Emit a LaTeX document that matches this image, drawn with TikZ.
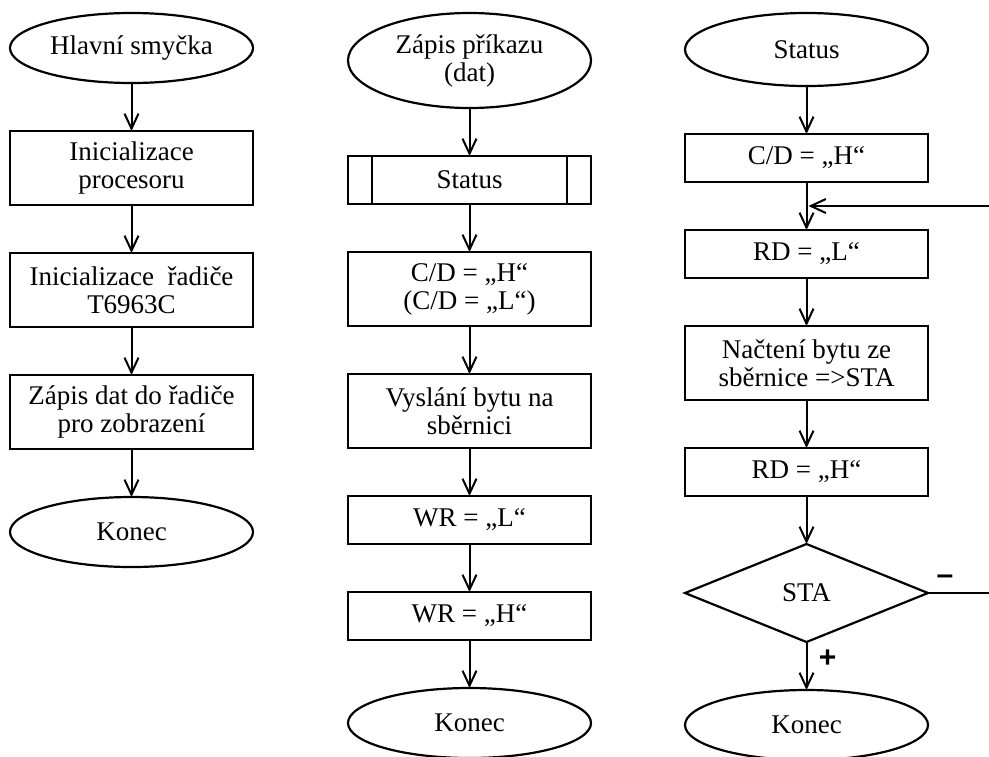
\documentclass[tikz,border=0pt]{standalone}
\usepackage{fontspec}
\setmainfont{Liberation Serif}
\newfontfamily\signfont{Liberation Sans}
\usetikzlibrary{shapes.geometric,arrows.meta,positioning,calc}

\begin{document}
\begin{tikzpicture}[
    x=0.5pt, y=-0.5pt,
    node distance=24pt,
    every node/.style={font=\fontsize{13.5}{14}\selectfont},
    krok/.style={rectangle, draw, line width=1.1pt, outer sep=0pt, align=center, minimum width=121.5pt, minimum height=24pt, inner sep=2pt},
    krok2/.style={krok, minimum height=37pt},
    mez/.style={ellipse, draw, line width=1.1pt, outer sep=0pt, align=center, minimum width=121.5pt, minimum height=35pt, inner sep=0pt},
    podm/.style={diamond, draw, line width=1.1pt, outer sep=0pt, minimum width=121.5pt, minimum height=49pt, inner sep=0pt},
    sipka/.style={-{Straight Barb[length=7.5pt,width=7pt]}, line width=1pt},
    znak/.style={font=\signfont\bfseries\fontsize{15}{15}\selectfont}
]
    \clip (0,0) rectangle (989,756);
    \fill [white] (0,0) rectangle (989,756);

    % hlavni smycka
    \node [mez] (h0) at (131.5,48) {Hlavní smyčka};
    \node [krok2, below=of h0] (h1) {Inicializace\\procesoru};
    \node [krok2, below=of h1] (h2) {Inicializace\ \ řadiče\\T6963C};
    \node [krok2, below=of h2] (h3) {Zápis dat do řadiče\\pro zobrazení};
    \node [mez, below=of h3] (h4) {Konec};

    % zapis prikazu (dat)
    \node [mez, minimum height=47.5pt] (z0) at (469.5,60.5) {Zápis příkazu\\(dat)};
    \node [krok, below=of z0] (z1) {Status};
    \draw [line width=1.1pt] ([xshift=12pt]z1.north west) -- ([xshift=12pt]z1.south west);
    \draw [line width=1.1pt] ([xshift=-12pt]z1.north east) -- ([xshift=-12pt]z1.south east);
    \node [krok2, below=of z1] (z2) {C/D = „H“\\(C/D = „L“)};
    \node [krok2, below=of z2] (z3) {Vyslání bytu na\\sběrnici};
    \node [krok, below=of z3] (z4) {WR = „L“};
    \node [krok, below=of z4] (z5) {WR = „H“};
    \node [mez, below=of z5] (z6) {Konec};

    % status
    \node [mez, minimum height=36.5pt] (s0) at (806.5,49.5) {Status};
    \node [krok, below=of s0] (s1) {C/D = „H“};
    \node [krok, below=of s1] (s2) {RD = „L“};
    \node [krok2, below=of s2] (s3) {Načtení bytu ze\\sběrnice =>STA};
    \node [krok, below=of s3] (s4) {RD = „H“};
    \node [podm, below=of s4] (s5) {STA};
    \node [mez, below=of s5] (s6) {Konec};
    \node [znak] (minus) at ([xshift=8.5pt,yshift=6.5pt]s5.east) {–};
    \node [znak] (plus) at ([xshift=10.5pt,yshift=-8.5pt]s5.south) {+};

    \draw [sipka] (h0) -- (h1);
    \draw [sipka] (h1) -- (h2);
    \draw [sipka] (h2) -- (h3);
    \draw [sipka] (h3) -- (h4);

    \draw [sipka] (z0) -- (z1);
    \draw [sipka] (z1) -- (z2);
    \draw [sipka] (z2) -- (z3);
    \draw [sipka] (z3) -- (z4);
    \draw [sipka] (z4) -- (z5);
    \draw [sipka] (z5) -- (z6);

    \draw [sipka] (s0) -- (s1);
    \draw [sipka] (s1) -- (s2);
    \draw [sipka] (s2) -- (s3);
    \draw [sipka] (s3) -- (s4);
    \draw [sipka] (s4) -- (s5);
    \draw [sipka] (s5) -- (s6);

    % navrat ze smycky
    \coordinate (navrat) at ($(s1.south)!0.5!(s2.north)$);
    \coordinate (roh) at (994,0);
    \draw [sipka] (s5.east) -- (s5.east -| roh) -- (roh |- navrat) -- ([xshift=1pt]navrat);
\end{tikzpicture}
\end{document}
